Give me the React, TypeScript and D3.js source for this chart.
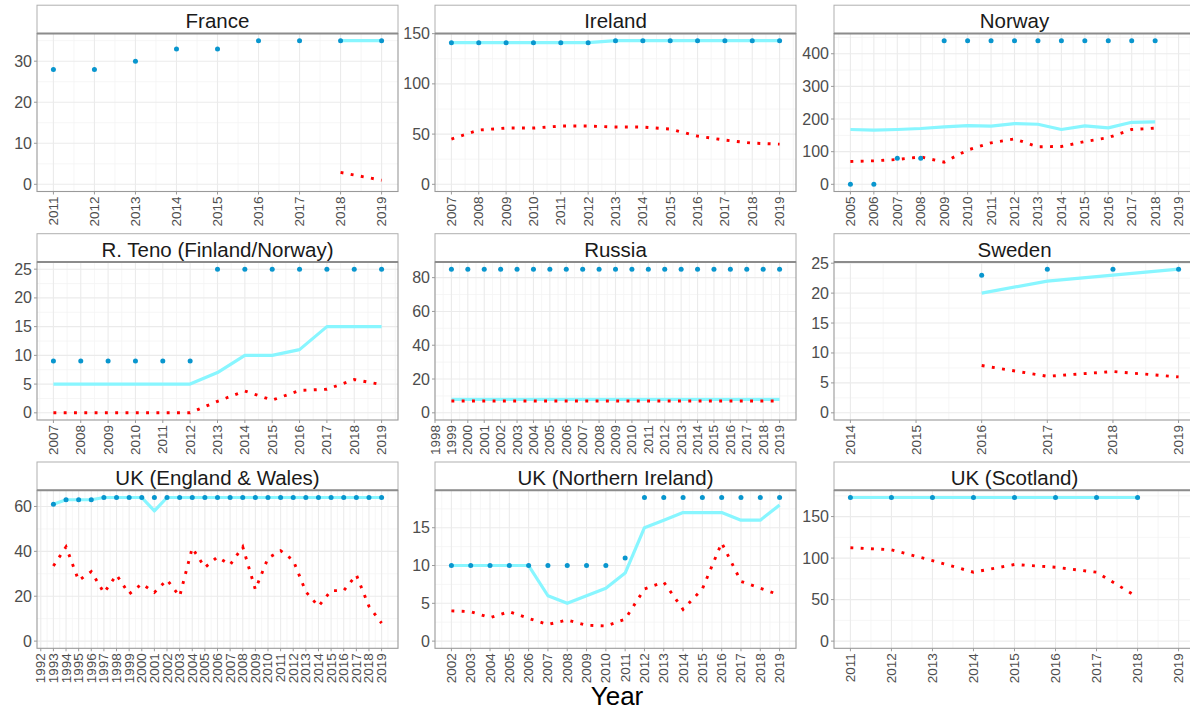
import React from "react";
import * as d3 from "d3";

const FONT = "'Liberation Sans', Arial, Helvetica, sans-serif";

// ---------- France ----------
const franceXDomain = [2011, 2019];
const franceYTicks = [0, 10, 20, 30];
const francePointYears = [2011, 2012, 2013, 2014, 2015, 2016, 2017, 2018, 2019];
const francePoints = [28, 28, 30, 33, 33, 35, 35, 35, 35];
const franceLineYears = [2018, 2019];
const franceLine = [35, 35];
const franceDottedYears = [2018, 2019];
const franceDotted = [2.9, 1.0];

// ---------- Ireland ----------
const irelandXDomain = [2007, 2019];
const irelandYTicks = [0, 50, 100, 150];
const irelandYears = [2007, 2008, 2009, 2010, 2011, 2012, 2013, 2014, 2015, 2016, 2017, 2018, 2019];
const irelandPoints = [141, 141, 141, 141, 141, 141, 143, 143, 143, 143, 143, 143, 143];
const irelandLine = [141, 141, 141, 141, 141, 141, 143, 143, 143, 143, 143, 143, 143];
const irelandDotted = [45, 54, 56, 56, 58, 58, 57, 57, 55, 48, 44, 41, 40];

// ---------- Norway ----------
const norwayXDomain = [2005, 2019];
const norwayYTicks = [0, 100, 200, 300, 400];
const norwayYears = [2005, 2006, 2007, 2008, 2009, 2010, 2011, 2012, 2013, 2014, 2015, 2016, 2017, 2018];
const norwayPoints = [0, 0, 80, 80, 440, 440, 440, 440, 440, 440, 440, 440, 440, 440];
const norwayLine = [168, 166, 168, 171, 176, 180, 178, 186, 184, 168, 179, 173, 190, 191];
const norwayDotted = [70, 72, 76, 84, 68, 105, 127, 139, 115, 116, 131, 143, 168, 172];

// ---------- R. Teno ----------
const tenoXDomain = [2007, 2019];
const tenoYTicks = [0, 5, 10, 15, 20, 25];
const tenoYears = [2007, 2008, 2009, 2010, 2011, 2012, 2013, 2014, 2015, 2016, 2017, 2018, 2019];
const tenoPoints = [9, 9, 9, 9, 9, 9, 25, 25, 25, 25, 25, 25, 25];
const tenoLine = [5, 5, 5, 5, 5, 5, 7, 10, 10, 11, 15, 15, 15];
const tenoDotted = [0, 0, 0, 0, 0, 0, 2.0, 3.8, 2.2, 3.9, 4.1, 5.8, 4.9];

// ---------- Russia ----------
const russiaXDomain = [1999, 2019];
const russiaYTicks = [0, 20, 40, 60, 80];
const russiaYears = [1999, 2000, 2001, 2002, 2003, 2004, 2005, 2006, 2007, 2008, 2009, 2010, 2011, 2012, 2013, 2014, 2015, 2016, 2017, 2018, 2019];
const russiaPoints = [85, 85, 85, 85, 85, 85, 85, 85, 85, 85, 85, 85, 85, 85, 85, 85, 85, 85, 85, 85, 85];
const russiaLine = [8, 8, 8, 8, 8, 8, 8, 8, 8, 8, 8, 8, 8, 8, 8, 8, 8, 8, 8, 8, 8];
const russiaDotted = [7, 7, 7, 7, 7, 7, 7, 7, 7, 7, 7, 7, 7, 7, 7, 7, 7, 7, 7, 7, 7];

// ---------- Sweden ----------
const swedenXDomain = [2014, 2019];
const swedenYTicks = [0, 5, 10, 15, 20, 25];
const swedenYears = [2016, 2017, 2018, 2019];
const swedenPoints = [23, 24, 24, 24];
const swedenLine = [20, 22, 23, 24];
const swedenDotted = [7.9, 6.1, 6.9, 6.0];

// ---------- UK (England & Wales) ----------
const ewXDomain = [1993, 2019];
const ewYTicks = [0, 20, 40, 60];
const ewYears = [1993, 1994, 1995, 1996, 1997, 1998, 1999, 2000, 2001, 2002, 2003, 2004, 2005, 2006, 2007, 2008, 2009, 2010, 2011, 2012, 2013, 2014, 2015, 2016, 2017, 2018, 2019];
const ewPoints = [61, 63, 63, 63, 64, 64, 64, 64, 64, 64, 64, 64, 64, 64, 64, 64, 64, 64, 64, 64, 64, 64, 64, 64, 64, 64, 64];
const ewLine = [61, 63, 63, 63, 64, 64, 64, 64, 58, 64, 64, 64, 64, 64, 64, 64, 64, 64, 64, 64, 64, 64, 64, 64, 64, 64, 64];
const ewDotted = [33.5, 42, 27, 31, 21.5, 29.5, 21, 25.5, 21.7, 27.3, 20, 41.5, 32.8, 37.5, 34, 42, 23, 37, 40.3, 36, 22, 15.5, 22.5, 22.5, 29.5, 15.5, 8];

// ---------- UK (Northern Ireland) ----------
const niXDomain = [2002, 2019];
const niYTicks = [0, 5, 10, 15];
const niYears = [2002, 2003, 2004, 2005, 2006, 2007, 2008, 2009, 2010, 2011, 2012, 2013, 2014, 2015, 2016, 2017, 2018, 2019];
const niPoints = [10, 10, 10, 10, 10, 10, 10, 10, 10, 11, 19, 19, 19, 19, 19, 19, 19, 19];
const niLine = [10, 10, 10, 10, 10, 6, 5, 6, 7, 9, 15, 16, 17, 17, 17, 16, 16, 18];
const niDotted = [4.0, 3.9, 3.1, 3.9, 3.0, 2.2, 2.8, 2.1, 2.0, 2.9, 6.9, 7.8, 4.2, 6.9, 13.0, 7.9, 7.0, 6.1];

// ---------- UK (Scotland) ----------
const scotXDomain = [2011, 2019];
const scotYTicks = [0, 50, 100, 150];
const scotYears = [2011, 2012, 2013, 2014, 2015, 2016, 2017, 2018];
const scotPoints = [173, 173, 173, 173, 173, 173, 173, 173];
const scotLine = [173, 173, 173, 173, 173, 173, 173, 173];
const scotDotted = [112.5, 110, 97, 83, 92.3, 89, 83, 53];

const xAxisTitle = "Year";

type Panel = {
  title: string;
  xDomain: number[];
  yTicks: number[];
  pointYears: number[];
  points: number[];
  lineYears: number[];
  line: number[];
  dottedYears: number[];
  dotted: number[];
};

const panels: Panel[] = [
  { title: "France", xDomain: franceXDomain, yTicks: franceYTicks, pointYears: francePointYears, points: francePoints, lineYears: franceLineYears, line: franceLine, dottedYears: franceDottedYears, dotted: franceDotted },
  { title: "Ireland", xDomain: irelandXDomain, yTicks: irelandYTicks, pointYears: irelandYears, points: irelandPoints, lineYears: irelandYears, line: irelandLine, dottedYears: irelandYears, dotted: irelandDotted },
  { title: "Norway", xDomain: norwayXDomain, yTicks: norwayYTicks, pointYears: norwayYears, points: norwayPoints, lineYears: norwayYears, line: norwayLine, dottedYears: norwayYears, dotted: norwayDotted },
  { title: "R. Teno (Finland/Norway)", xDomain: tenoXDomain, yTicks: tenoYTicks, pointYears: tenoYears, points: tenoPoints, lineYears: tenoYears, line: tenoLine, dottedYears: tenoYears, dotted: tenoDotted },
  { title: "Russia", xDomain: russiaXDomain, yTicks: russiaYTicks, pointYears: russiaYears, points: russiaPoints, lineYears: russiaYears, line: russiaLine, dottedYears: russiaYears, dotted: russiaDotted },
  { title: "Sweden", xDomain: swedenXDomain, yTicks: swedenYTicks, pointYears: swedenYears, points: swedenPoints, lineYears: swedenYears, line: swedenLine, dottedYears: swedenYears, dotted: swedenDotted },
  { title: "UK (England & Wales)", xDomain: ewXDomain, yTicks: ewYTicks, pointYears: ewYears, points: ewPoints, lineYears: ewYears, line: ewLine, dottedYears: ewYears, dotted: ewDotted },
  { title: "UK (Northern Ireland)", xDomain: niXDomain, yTicks: niYTicks, pointYears: niYears, points: niPoints, lineYears: niYears, line: niLine, dottedYears: niYears, dotted: niDotted },
  { title: "UK (Scotland)", xDomain: scotXDomain, yTicks: scotYTicks, pointYears: scotYears, points: scotPoints, lineYears: scotYears, line: scotLine, dottedYears: scotYears, dotted: scotDotted },
];

// layout
const COL_LEFT = [37, 435, 834];
const PANEL_W = 361;
const PLOT_TOP = [33.5, 262, 490.3];
const PLOT_H = 158;
const STRIP_H = 28.3;

const BLUE = "#0996CE";
const CYAN = "#88F6FF";
const RED = "#FF0000";
const BORDER = "#9A9A9A";

function expand(d: number[], m = 0.05) {
  const r = d[1] - d[0];
  return [d[0] - r * m, d[1] + r * m];
}

function FacetPanel({ p, left, top }: { p: Panel; left: number; top: number }) {
  const xd = expand(p.xDomain);
  const yMax = d3.max([...p.points, ...p.line, ...p.dotted]) as number;
  const yd = expand([0, yMax]);
  const x = d3.scaleLinear().domain(xd).range([left, left + PANEL_W]);
  const y = d3.scaleLinear().domain(yd).range([top + PLOT_H, top]);
  const bottom = top + PLOT_H;
  const right = left + PANEL_W;

  const xTicks = d3.range(Math.ceil(xd[0] - 1e-9), p.xDomain[1] + 1);
  const xMinor = d3.range(Math.ceil(xd[0] - 0.5) + 0.5, xd[1], 1).filter((v) => v >= xd[0] && v <= xd[1]);
  const step = p.yTicks[1] - p.yTicks[0];
  const yMinor = d3
    .range(p.yTicks[0] - step / 2, yd[1] + step, step)
    .filter((v) => v >= yd[0] && v <= yd[1]);
  const yMajor = p.yTicks.filter((v) => v >= yd[0] && v <= yd[1] + 1e-9);

  const lineGen = d3
    .line<[number, number]>()
    .x((d) => x(d[0]))
    .y((d) => y(d[1]));
  const lineData = p.lineYears.map((yr, i) => [yr, p.line[i]] as [number, number]);
  const dotData = p.dottedYears.map((yr, i) => [yr, p.dotted[i]] as [number, number]);

  return (
    <g>
      <rect x={left} y={top} width={PANEL_W} height={PLOT_H} fill="#fff" />
      {yMinor.map((v) => (
        <line key={"ym" + v} x1={left} x2={right} y1={y(v)} y2={y(v)} stroke="#F4F4F4" strokeWidth={0.8} />
      ))}
      {xMinor.map((v) => (
        <line key={"xm" + v} x1={x(v)} x2={x(v)} y1={top} y2={bottom} stroke="#F4F4F4" strokeWidth={0.8} />
      ))}
      {yMajor.map((v) => (
        <line key={"yM" + v} x1={left} x2={right} y1={y(v)} y2={y(v)} stroke="#EBEBEB" strokeWidth={1.1} />
      ))}
      {xTicks.map((v) => (
        <line key={"xM" + v} x1={x(v)} x2={x(v)} y1={top} y2={bottom} stroke="#EBEBEB" strokeWidth={1.1} />
      ))}
      <path d={lineGen(lineData) || ""} fill="none" stroke={CYAN} strokeWidth={3.2} strokeLinejoin="round" />
      <path d={lineGen(dotData) || ""} fill="none" stroke={RED} strokeWidth={2.9} strokeDasharray="2.9 7.4" />
      {p.pointYears.map((yr, i) => (
        <circle key={"pt" + yr} cx={x(yr)} cy={y(p.points[i])} r={2.5} fill={BLUE} />
      ))}
      <rect x={left} y={top} width={PANEL_W} height={PLOT_H} fill="none" stroke={BORDER} strokeWidth={1.1} />
      {/* strip */}
      <rect x={left} y={top - STRIP_H} width={PANEL_W} height={STRIP_H} fill="#fff" stroke="#B0B0B0" strokeWidth={1} />
      <line x1={left} x2={right} y1={top} y2={top} stroke="#8C8C8C" strokeWidth={2} />
      <text
        x={left + PANEL_W / 2}
        y={top - STRIP_H / 2 + 1.5}
        textAnchor="middle"
        dominantBaseline="central"
        fontFamily={FONT}
        fontSize={20.5}
        fill="#1A1A1A"
      >
        {p.title}
      </text>
      {/* y axis */}
      {yMajor.map((v) => (
        <g key={"yt" + v}>
          <line x1={left - 3} x2={left} y1={y(v)} y2={y(v)} stroke={BORDER} strokeWidth={1} />
          <text
            x={left - 5}
            y={y(v)}
            textAnchor="end"
            dominantBaseline="central"
            fontFamily={FONT}
            fontSize={16}
            fill="#4D4D4D"
          >
            {v}
          </text>
        </g>
      ))}
      {/* x axis */}
      {xTicks.map((v) => (
        <g key={"xt" + v}>
          <line x1={x(v)} x2={x(v)} y1={bottom} y2={bottom + 3} stroke={BORDER} strokeWidth={1} />
          <text
            transform={`translate(${x(v)},${bottom + 5}) rotate(-90)`}
            textAnchor="end"
            dominantBaseline="central"
            fontFamily={FONT}
            fontSize={13.5}
            fill="#4D4D4D"
          >
            {v}
          </text>
        </g>
      ))}
    </g>
  );
}

export default function App() {
  return (
    <svg
      width={1190}
      height={710}
      style={{ position: "absolute", left: 0, top: 0, background: "#fff" }}
    >
      <rect x={0} y={0} width={1190} height={710} fill="#fff" />
      {panels.map((p, i) => (
        <FacetPanel key={p.title} p={p} left={COL_LEFT[i % 3]} top={PLOT_TOP[Math.floor(i / 3)]} />
      ))}
      <text x={617} y={705} textAnchor="middle" fontFamily={FONT} fontSize={26} fill="#000">
        {xAxisTitle}
      </text>
    </svg>
  );
}
